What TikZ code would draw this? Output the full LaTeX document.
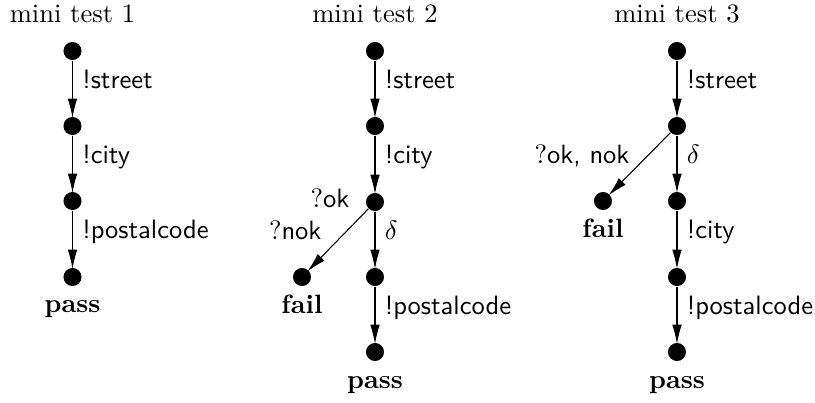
\documentclass[tikz,border=0pt]{standalone}
\usetikzlibrary{arrows.meta}
\begin{document}
\begin{tikzpicture}[x=0.377pt,y=-0.377pt,
 dot/.style={circle,fill=black,inner sep=0pt,minimum size=6.8pt},
 arr/.style={-{Latex[length=7.3pt,width=3.6pt]}, line width=0.4pt, shorten >=-0.6pt},
 lab/.style={anchor=base west, inner sep=0pt, xshift=3.5pt, font=\sffamily},
 elab/.style={anchor=base east, inner sep=0pt},
 verdict/.style={anchor=base, font=\bfseries, inner sep=0pt},
 ttl/.style={anchor=base, inner sep=0pt}]
\useasboundingbox (0,0) rectangle (815,403);
% ---------- mini test 1
\node[ttl] (t1) at (72.5,23) {mini test 1};
\node[dot] (a1) at (72.5,51) {};
\node[dot] (a2) at (72.5,126) {};
\node[dot] (a3) at (72.5,201) {};
\node[dot] (a4) at (72.5,277) {};
\node[verdict] (p1) at (72.5,313) {pass};
\draw[arr] (a1) -- node[lab] (l11) {!street} (a2);
\draw[arr] (a2) -- node[lab] (l12) {!city} (a3);
\draw[arr] (a3) -- node[lab] (l13) {!postalcode} (a4);
% ---------- mini test 2
\node[ttl] (t2) at (375,23) {mini test 2};
\node[dot] (b1) at (375,51) {};
\node[dot] (b2) at (375,126) {};
\node[dot] (b3) at (375,202) {};
\node[dot] (b4) at (375,277) {};
\node[dot] (b5) at (375,352) {};
\node[dot] (bf) at (302,277) {};
\node[verdict] (f2) at (302,314) {fail};
\node[verdict] (p2) at (375,389) {pass};
\draw[arr] (b1) -- node[lab] (l21) {!street} (b2);
\draw[arr] (b2) -- node[lab] (l22) {!city} (b3);
\draw[arr] (b3) -- node[lab] (l23) {$\delta$} (b4);
\draw[arr] (b4) -- node[lab] (l24) {!postalcode} (b5);
\draw[arr] (b3) -- (bf);
\node[elab] (l25) at (350,208) {?\textsf{ok}};
\node[elab] (l26) at (322,240) {?\textsf{nok}};
% ---------- mini test 3
\node[ttl] (t3) at (677,23) {mini test 3};
\node[dot] (c1) at (677,51) {};
\node[dot] (c2) at (677,126) {};
\node[dot] (c3) at (677,201) {};
\node[dot] (c4) at (677,277) {};
\node[dot] (c5) at (677,352) {};
\node[dot] (cf) at (603,201) {};
\node[verdict] (f3) at (603,238) {fail};
\node[verdict] (p3) at (677,389) {pass};
\draw[arr] (c1) -- node[lab] (l31) {!street} (c2);
\draw[arr] (c2) -- node[lab] (l32) {$\delta$} (c3);
\draw[arr] (c3) -- node[lab] (l33) {!city} (c4);
\draw[arr] (c4) -- node[lab] (l34) {!postalcode} (c5);
\draw[arr] (c2) -- (cf);
\node[elab] (l35) at (630,164) {?\textsf{ok, nok}};
\end{tikzpicture}
\end{document}
